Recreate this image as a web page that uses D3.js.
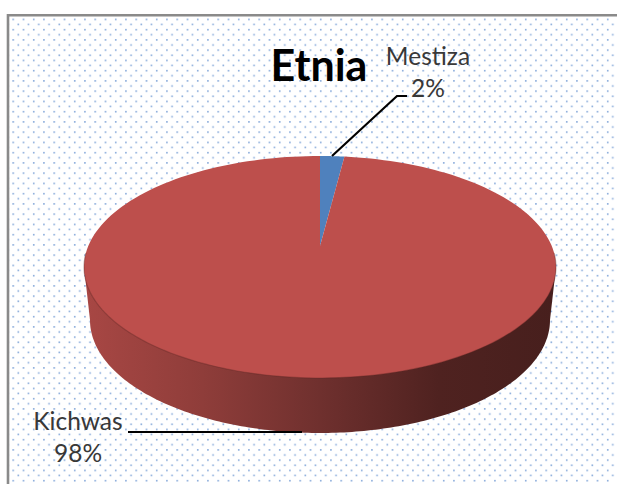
<!DOCTYPE html>
<html>
<head>
<meta charset="utf-8">
<script src="https://cdn.jsdelivr.net/npm/d3@7"></script>
<style>
  html, body { margin: 0; padding: 0; background: #fff; }
  svg { display: block; }
  text { font-family: Lato, "Open Sans", sans-serif; }
</style>
</head>
<body>
<svg id="chart" width="617" height="484"></svg>
<script>
const categories = ["Mestiza", "Kichwas"];
const shares = [2, 98];
const percentLabels = ["2%", "98%"];
const sliceColors = ["#4f81bd", "#bd4f4c"];
const chartTitle = "Etnia";

const W = 617, H = 484;
const svg = d3.select("#chart");
const defs = svg.append("defs");

// Dotted chart-area fill
const dots = defs.append("pattern")
  .attr("id", "dots").attr("patternUnits", "userSpaceOnUse")
  .attr("x", 12.4).attr("y", 18.6).attr("width", 10.25).attr("height", 10.25);
dots.append("rect").attr("x", 0).attr("y", 0).attr("width", 1.6).attr("height", 1.6).attr("fill", "#86a9da");
dots.append("rect").attr("x", 5.1).attr("y", 5.1).attr("width", 1.6).attr("height", 1.6).attr("fill", "#86a9da");

svg.append("rect").attr("width", W).attr("height", H).attr("fill", "#fff");
svg.append("rect").attr("x", 9).attr("y", 16).attr("width", W - 9).attr("height", H - 16).attr("fill", "url(#dots)");
svg.append("path").attr("d", `M8 ${H}V15.2H${W}`).attr("fill", "none").attr("stroke", "#8a8a8a").attr("stroke-width", 2.6);

// Tilted disc geometry: the pie circle is seen through a perspective map,
// so its centre lands above the middle of the top ellipse.
const cx = 320, apexY = 246, topY = 156, botY = 378, rxMax = 236;
const persp = (2 * apexY - topY - botY) / (botY - topY);
const kY = (botY - topY) * (1 - persp * persp) / 2;
const kX = rxMax * Math.sqrt(1 - persp * persp);
const project = a => {
  const u = Math.sin(a), v = -Math.cos(a);
  const d = 1 + persp * v;
  return [cx + kX * u / d, apexY + kY * v / d];
};

const pieData = d3.pie().sort(null).value(d => d)(shares);
const angleSteps = (a0, a1) => d3.range(0, 181).map(i => a0 + (a1 - a0) * i / 180);
const outline = d3.line();

// Side wall: the lower rim is a slightly smaller ellipse further down
const wall = { cy: 320, rx: 230, ry: 113 };
const frontBot = d3.range(0, 181).map(i => {
  const t = Math.PI * i / 180;
  return [cx + wall.rx * Math.cos(t), wall.cy + wall.ry * Math.sin(t)];
});
const wallGrad = defs.append("linearGradient").attr("id", "wallShade")
  .attr("gradientUnits", "userSpaceOnUse")
  .attr("x1", cx - rxMax).attr("x2", cx + rxMax).attr("y1", 0).attr("y2", 0);
[[0, "#a84744"], [0.25, "#8f3d3a"], [0.5, "#6f302e"], [0.75, "#4f2220"], [1, "#471f1d"]]
  .forEach(([o, c]) => wallGrad.append("stop").attr("offset", o).attr("stop-color", c));

svg.append("path")
  .attr("d", outline([[cx + rxMax, 267], ...frontBot, [cx - rxMax, 267]]) + "Z")
  .attr("fill", "url(#wallShade)");

// Top face slices
svg.selectAll("path.slice").data(pieData).join("path")
  .attr("class", "slice")
  .attr("d", d => outline([[cx, apexY], ...angleSteps(d.startAngle, d.endAngle).map(project)]) + "Z")
  .attr("fill", (d, i) => sliceColors[i]);

// Soft dark seam where the top face meets the wall
svg.append("path")
  .attr("d", outline(angleSteps(Math.PI * 0.52, Math.PI * 1.48).map(project)))
  .attr("fill", "none").attr("stroke", "#5a2422").attr("stroke-opacity", 0.35).attr("stroke-width", 1.2);

// Leader lines
svg.append("path").attr("d", "M332 156L397 96H407").attr("fill", "none").attr("stroke", "#000").attr("stroke-width", 2.2);
svg.append("path").attr("d", "M128 432H302").attr("fill", "none").attr("stroke", "#000").attr("stroke-width", 2.2);

// Title and data labels
svg.append("text").text(chartTitle).attr("x", 319).attr("y", 81)
  .attr("text-anchor", "middle").attr("font-size", 43).attr("font-weight", 700).attr("fill", "#000");
const labelAt = [[428, 65, 97], [78, 430, 462]];
categories.forEach((c, i) => {
  const [x, y1, y2] = labelAt[i];
  svg.append("text").text(c).attr("x", x).attr("y", y1).attr("text-anchor", "middle").attr("font-size", 24.5).attr("fill", "#383838");
  svg.append("text").text(percentLabels[i]).attr("x", x).attr("y", y2).attr("text-anchor", "middle").attr("font-size", 24.5).attr("fill", "#383838");
});
</script>
</body>
</html>
